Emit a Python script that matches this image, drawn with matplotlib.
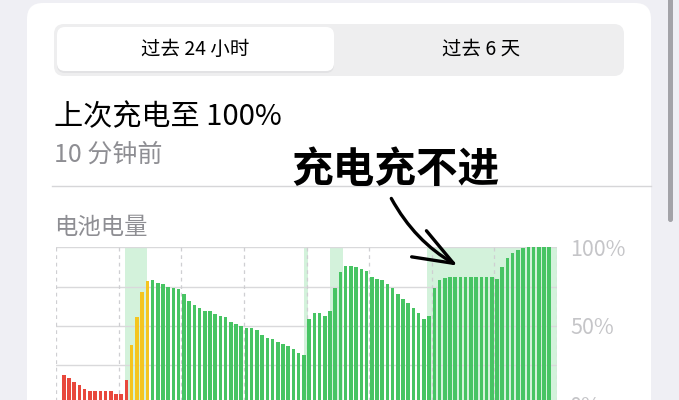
import numpy as np
import matplotlib.pyplot as plt
from matplotlib.patches import FancyBboxPatch

plt.rcParams['font.family'] = ['Noto Sans CJK SC', 'DejaVu Sans']

# --- 데이터 (15분 간격 배터리 잔량, %) ---
levels = [np.nan,
          18.9, 16.8, 14.6, 12.5, 9.8, 8.7, 8.7, 8.7, 8.7, 8.7, 6.8, 6.8, 15.7,
          37.7, 55.5, 71.4, 78.6,
          79.3, 77.6, 76.5, 74.6, 74.4, 73.3, 70.4, 66.1, 63.4, 61.3, 59.8, 59.4,
          57.7, 56.4, 55.5, 52.6, 51.5,
          50.2, 48.6, 48.6, 47.5, 44.3, 42.6, 41.5, 39.6, 38.4, 37.3, 35.6, 32.7, 31.6,
          54.5, 58.5, 58.5, 56.4, 59.6,
          74.4, 84.2, 88.2, 88.2, 87.3, 86.3, 85.2, 81.0, 80.1, 79.3, 76.5, 74.4,
          70.4, 67.4, 64.5, 61.5, 58.5, 54.5, 56.4,
          74.4, 79.3, 80.7,
          81.4, 81.4, 81.4, 81.4, 81.4, 81.4, 81.4, 81.4, 81.4,
          79.9, 87.3, 93.1, 96.2, 98.3, 99.4,
          100, 100, 100, 100, 100,
          np.nan]
# 막대 상태: low = 저전력 경고(빨강), saver = 저전력 모드(노랑), normal = 초록
state_runs = [('none', 1), ('low', 13), ('saver', 4), ('normal', 77), ('none', 1)]
# 충전 구간 (막대 인덱스 단위)
charging = [(12.7, 17.0), (47.0, 47.8), (52.0, 54.5), (70.5, 95.5)]
y_ticks = [100, 50, 0]
y_labels = ['100%', '50%', '0%']

state = []
for name, n in state_runs:
    state += [name] * n
palette = {'none': 'white', 'low': '#e8483c', 'saver': '#f4c51f', 'normal': '#47c463'}
bar_colors = [palette[s] for s in state]
idx = np.arange(len(levels))

# --- 그림 ---
fig = plt.figure(figsize=(6.79, 4.0), dpi=100)
fig.patch.set_facecolor('#efeff4')

bg = fig.add_axes([0, 0, 1, 1], zorder=0)
bg.set_xlim(0, 679)
bg.set_ylim(400, 0)
bg.axis('off')

# 카드
bg.add_patch(FancyBboxPatch((27, 3), 624, 440, boxstyle='round,pad=0,rounding_size=16',
                            fc='white', ec='none'))
# 스크롤바
bg.add_patch(FancyBboxPatch((668, -10), 5, 232, boxstyle='round,pad=0,rounding_size=2.5',
                            fc='#a3a3a8', ec='none'))

# 세그먼트 컨트롤
bg.add_patch(FancyBboxPatch((54, 24), 570, 52, boxstyle='round,pad=0,rounding_size=10',
                            fc='#eeeeef', ec='none'))
bg.add_patch(FancyBboxPatch((57, 29), 277, 44, boxstyle='round,pad=0,rounding_size=8',
                            fc='#e2e2e4', ec='none'))
bg.add_patch(FancyBboxPatch((57, 27), 277, 44, boxstyle='round,pad=0,rounding_size=8',
                            fc='white', ec='none'))
bg.text(195, 49, '过去 24 小时', fontsize=14, color='black', ha='center', va='center')
bg.text(481, 49, '过去 6 天', fontsize=14, color='black', ha='center', va='center')

bg.text(54, 117, '上次充电至 100%', fontsize=21, color='black', ha='left', va='center')
bg.text(54, 155, '10 分钟前', fontsize=18, color='#8e8e93', ha='left', va='center')
bg.plot([52, 651], [186, 186], color='#d6d6d8', lw=1)
bg.text(54, 227, '电池电量', fontsize=16.8, color='#8e8e93', ha='left', va='center')

# --- 배터리 막대 차트 ---
ax = fig.add_axes([56 / 679, -4.7 / 400, 501 / 679, 157.4 / 400], zorder=1)
ax.patch.set_alpha(0)
for a, b in charging:
    ax.axvspan(a, b, color='#d3f2db', lw=0, zorder=0)
for v in [25, 50, 75, 100]:
    ax.axhline(v, color='#d9d9db', lw=1, zorder=1)
for k in range(9):
    ax.axvline(k * 12 - 0.5, color='#cfcfd2', lw=0.9, ls=(0, (3, 3)), zorder=1)
ax.bar(idx, levels, width=0.68, color=bar_colors, zorder=2)
ax.set_xlim(-0.5, 95.5)
ax.set_ylim(0, 100)
for s in ax.spines.values():
    s.set_visible(False)
ax.set_xticks([])
ax.yaxis.tick_right()
ax.set_yticks(y_ticks)
ax.set_yticklabels(y_labels)
ax.tick_params(axis='y', length=0, pad=9.5, labelsize=15.5, labelcolor='#c5c5c8')

# --- 주석 ---
top = fig.add_axes([0, 0, 1, 1], zorder=5)
top.set_xlim(0, 679)
top.set_ylim(400, 0)
top.axis('off')
top.patch.set_alpha(0)
top.text(395, 170, '充电充不进', fontsize=30, fontweight='heavy', color='black',
         ha='center', va='center')
top.annotate('', xy=(460, 267), xytext=(390, 196),
             arrowprops=dict(arrowstyle='->,head_length=0.95,head_width=0.36',
                             connectionstyle='arc3,rad=0.15', lw=2.4, color='black',
                             mutation_scale=30))

fig.savefig('out.png', dpi=100)
